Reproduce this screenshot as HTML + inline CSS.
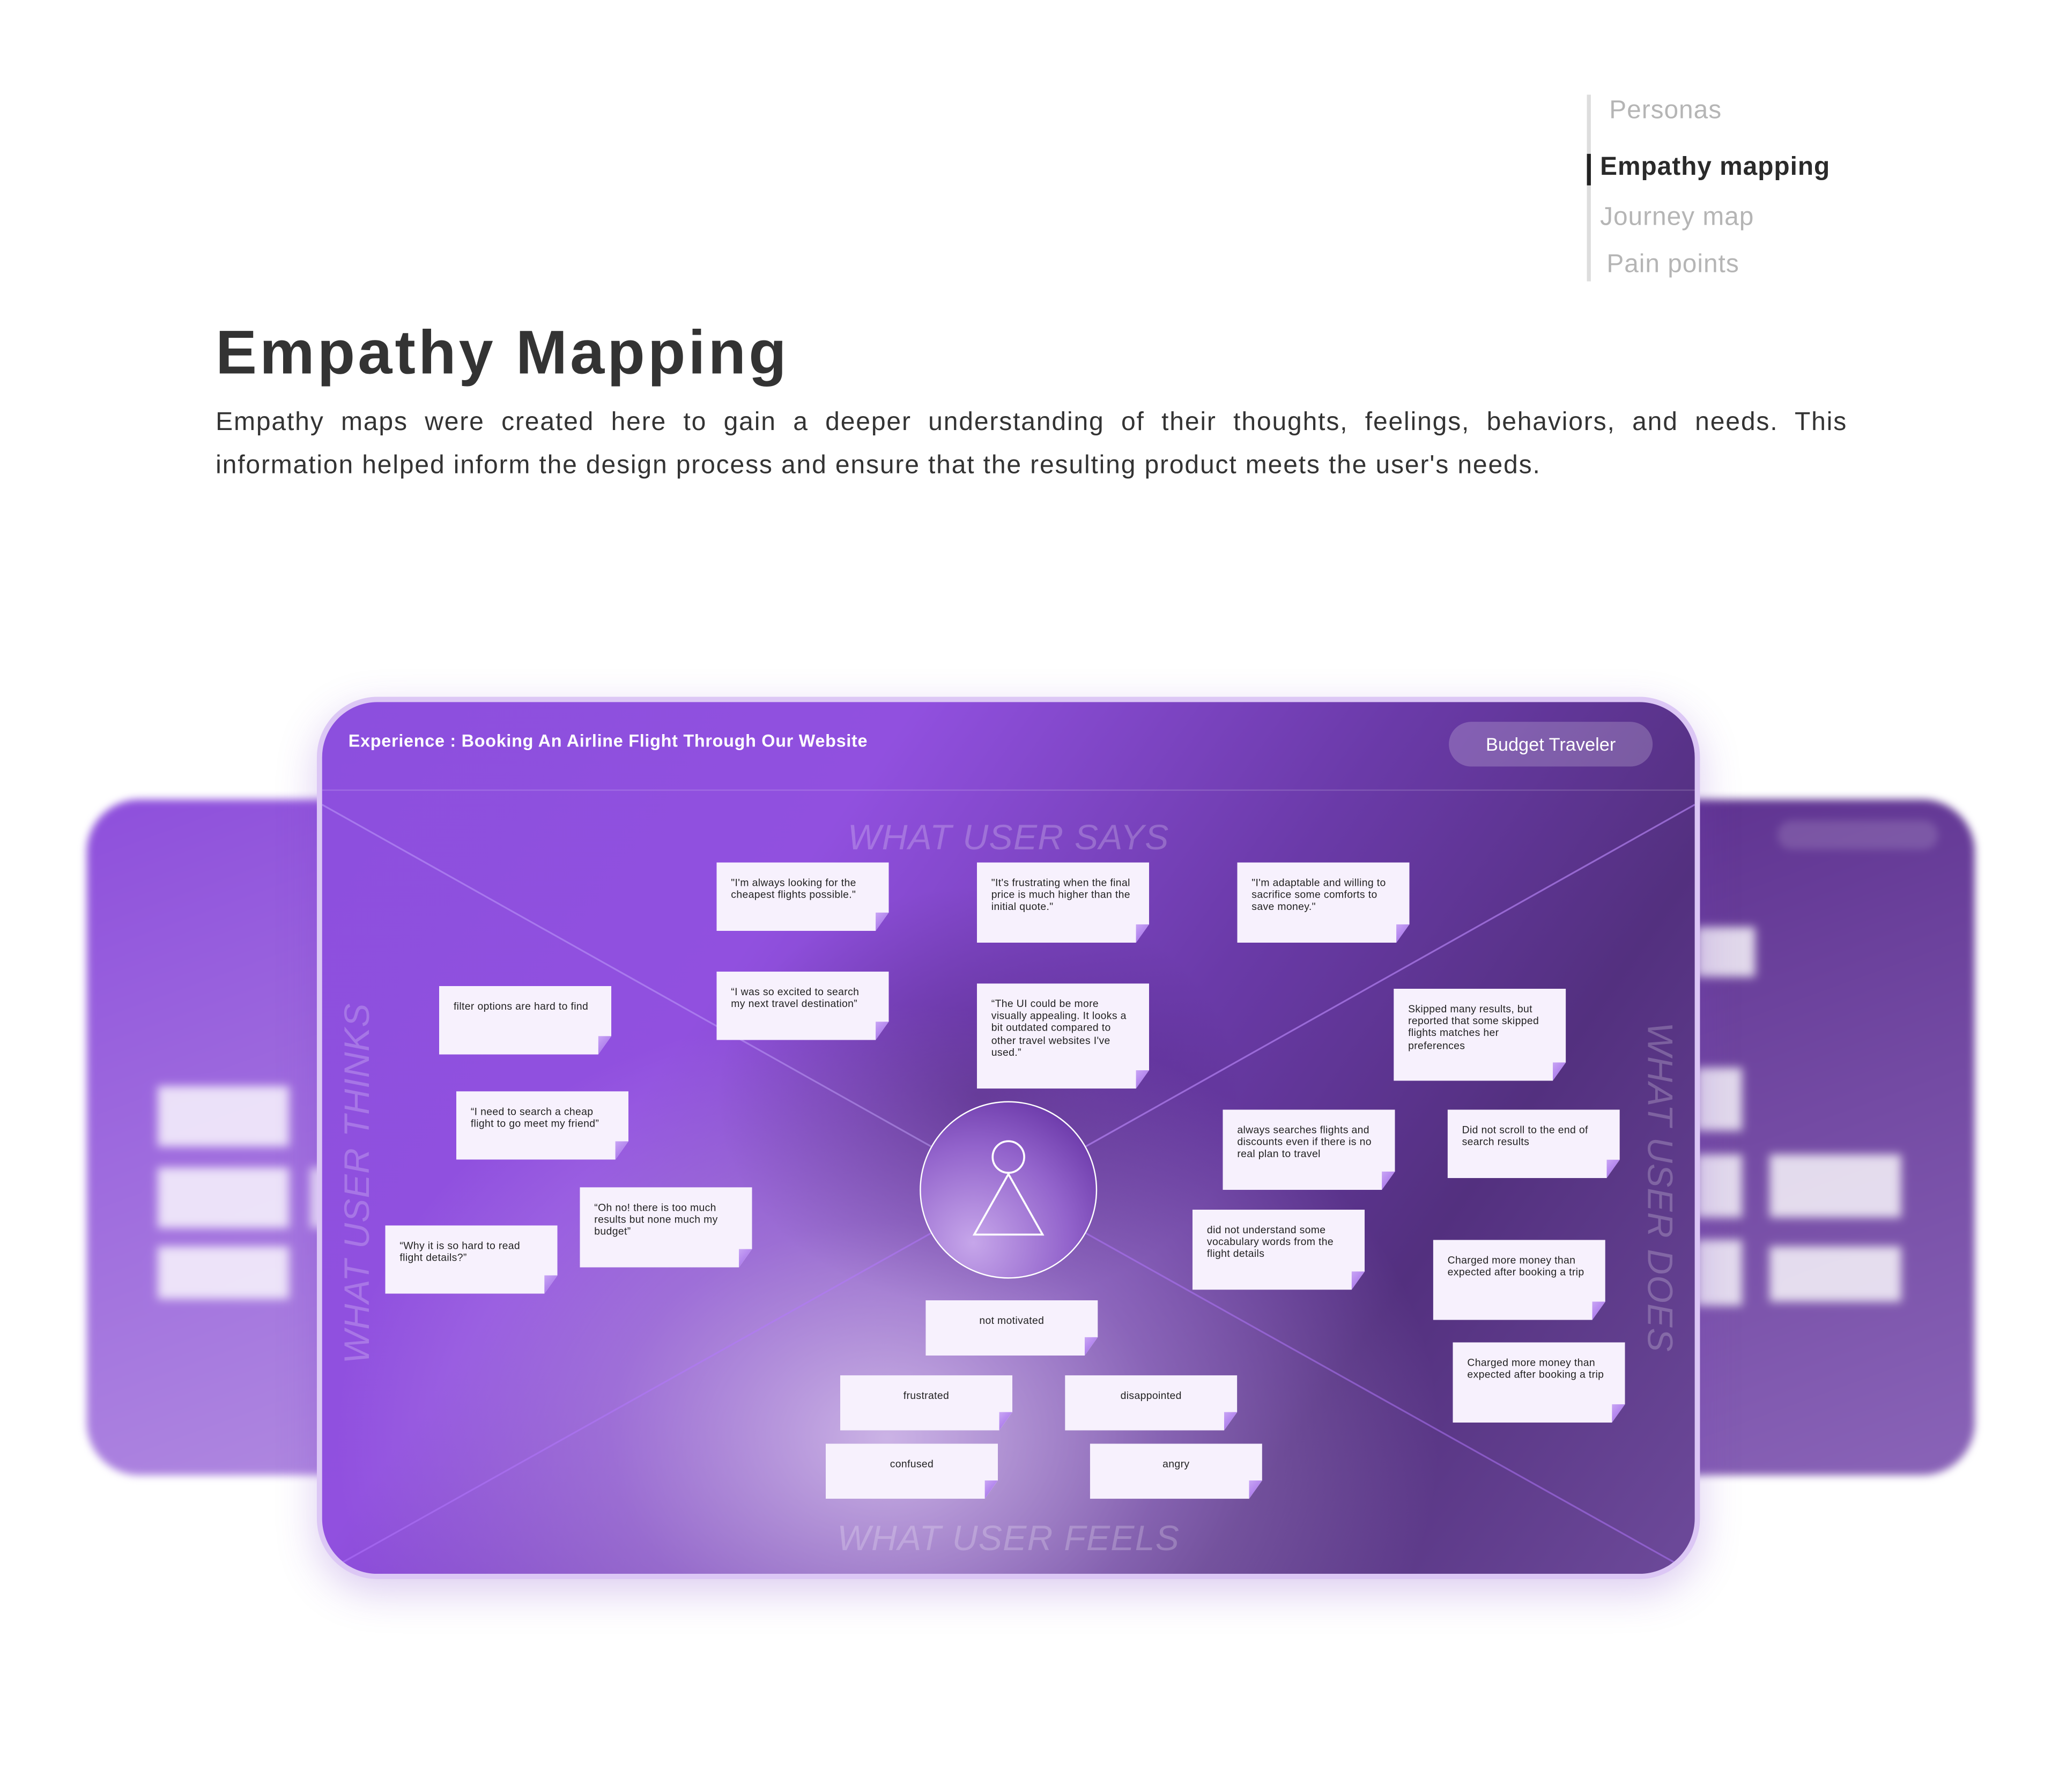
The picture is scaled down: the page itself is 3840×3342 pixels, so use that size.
<!DOCTYPE html>
<html><head><meta charset="utf-8"><style>
html,body{margin:0;padding:0;background:#fff;}
body{width:3840px;height:3341px;overflow:hidden;position:relative;font-family:"Liberation Sans",sans-serif;}
#w{position:absolute;left:0;top:0;width:1566px;height:1363px;transform:scale(2.452);transform-origin:0 0;}
.a{position:absolute;}
.nav{position:absolute;font-size:19.5px;color:#b5b5b5;white-space:nowrap;letter-spacing:.4px;}
.n{position:absolute;width:131px;background:#f7f1fd;box-shadow:0 6px 12px rgba(40,10,80,.3);font-size:7.9px;line-height:9.2px;letter-spacing:.15px;color:#222;padding:11px 11px 0 11px;box-sizing:border-box;clip-path:polygon(0 0,100% 0,100% calc(100% - 14px),calc(100% - 10px) 100%,0 100%);}
.n::after{content:"";position:absolute;right:0;bottom:0;width:10px;height:14px;background:linear-gradient(135deg,#c9a6f5,#9b62e6);clip-path:polygon(100% 0,0 100%,0 0);}
.c{text-align:center;}
.lab{position:absolute;font-size:27px;font-style:italic;color:rgba(255,255,255,.22);letter-spacing:.5px;white-space:nowrap;}
.bn{position:absolute;background:rgba(255,255,255,.8);}
.p{position:absolute;left:164px;width:1241px;font-size:19.6px;line-height:33px;letter-spacing:.75px;color:#333;white-space:nowrap;}
</style></head><body><div id="w">
<div class="a" style="left:1207px;top:72px;width:3px;height:142px;background:#ddd"></div>
<div class="a" style="left:1207px;top:117px;width:3px;height:24px;background:#222"></div>
<div class="nav" style="left:1224px;top:73px">Personas</div>
<div class="nav" style="left:1217px;top:116px;color:#2a2a2a;font-weight:bold">Empathy mapping</div>
<div class="nav" style="left:1217px;top:154px">Journey map</div>
<div class="nav" style="left:1222px;top:190px">Pain points</div>
<div class="a" style="left:164px;top:240px;font-size:47px;font-weight:bold;color:#333;white-space:nowrap;letter-spacing:2.1px">Empathy Mapping</div>
<div class="p" style="top:305px;text-align:justify;text-align-last:justify">Empathy maps were created here to gain a deeper understanding of their thoughts, feelings, behaviors, and needs. This</div>
<div class="p" style="top:338px">information helped inform the design process and ensure that the resulting product meets the user's needs.</div>

<div class="a" style="left:66px;top:608px;width:260px;height:514px;border-radius:40px;background:linear-gradient(160deg,#8e4fdc,#b08ae0);filter:blur(3px)">
<div class="bn" style="left:54px;top:218px;width:100px;height:46px;filter:blur(2px)"></div>
<div class="bn" style="left:54px;top:280px;width:100px;height:46px;filter:blur(2px)"></div>
<div class="bn" style="left:54px;top:340px;width:100px;height:40px;filter:blur(2px)"></div>
<div class="bn" style="left:170px;top:280px;width:40px;height:46px;filter:blur(2px)"></div>
</div>
<div class="a" style="left:1230px;top:608px;width:272px;height:514px;border-radius:40px;background:linear-gradient(160deg,#5e3290,#8a64b8);filter:blur(3px)">
<div class="a" style="left:122px;top:16px;width:122px;height:22px;border-radius:11px;background:rgba(255,255,255,.15)"></div>
<div class="bn" style="left:60px;top:97px;width:45px;height:38px;filter:blur(2px)"></div>
<div class="bn" style="left:60px;top:204px;width:35px;height:48px;filter:blur(2px)"></div>
<div class="bn" style="left:60px;top:270px;width:35px;height:48px;filter:blur(2px)"></div>
<div class="bn" style="left:116px;top:270px;width:100px;height:48px;filter:blur(2px)"></div>
<div class="bn" style="left:116px;top:340px;width:100px;height:42px;filter:blur(2px)"></div>
<div class="bn" style="left:60px;top:335px;width:35px;height:50px;filter:blur(2px)"></div>
</div>

<div class="a" style="left:241px;top:530px;width:1052px;height:671px;border-radius:46px;background:#dcc7f5;box-shadow:0 10px 30px rgba(120,60,200,.25)"></div>
<div class="a" style="left:245px;top:534px;width:1044px;height:663px;border-radius:42px;overflow:hidden;background:linear-gradient(125deg,#8c4fde 0%,#9150df 30%,#6a3aa8 55%,#53307f 75%,#6d4a9a 100%)">
<div class="a" style="left:0;top:0;width:1044px;height:663px;background:radial-gradient(ellipse 420px 330px at 430px 560px,rgba(220,200,240,.85),rgba(200,170,235,.4) 50%,rgba(180,150,220,0) 100%)"></div>
<div class="a" style="left:0;top:0;width:1044px;height:663px;background:radial-gradient(ellipse 200px 160px at 500px 300px,rgba(50,20,80,.35),rgba(50,20,80,0))"></div>
<svg class="a" style="left:0;top:0" width="1044" height="663">
<defs><radialGradient id="g" cx=".3" cy=".8" r=".9"><stop offset="0" stop-color="#c6a6ea"/><stop offset=".6" stop-color="#9364cc"/><stop offset="1" stop-color="#6a38a8"/></radialGradient></defs>
<line x1="0" y1="67" x2="1044" y2="67" stroke="rgba(255,255,255,.15)" stroke-width="1"/>
<line x1="0" y1="78" x2="522" y2="371" stroke="rgba(200,170,255,.45)" stroke-width="1.3"/>
<line x1="1044" y1="78" x2="522" y2="371" stroke="rgba(190,140,255,.6)" stroke-width="1.3"/>
<line x1="0" y1="663" x2="522" y2="371" stroke="rgba(180,120,255,.5)" stroke-width="1.3"/>
<line x1="1044" y1="663" x2="522" y2="371" stroke="rgba(180,120,255,.5)" stroke-width="1.3"/>
<circle cx="522" cy="371" r="67" fill="url(#g)"/>
<circle cx="522" cy="371" r="67" fill="none" stroke="#fff" stroke-width="1"/>
<circle cx="522" cy="346" r="12" fill="none" stroke="#fff" stroke-width="1.5"/>
<polygon points="522,359 496,405 548,405" fill="none" stroke="#fff" stroke-width="1.5"/>
</svg>
<div class="a" style="left:20px;top:22px;font-size:13.2px;font-weight:bold;color:#fff;white-space:nowrap;letter-spacing:.3px">Experience : Booking An Airline Flight Through Our Website</div>
<div class="a" style="left:857px;top:15px;width:155px;height:34px;border-radius:17px;background:rgba(255,255,255,.2);color:#fff;font-size:14px;line-height:34px;text-align:center">Budget Traveler</div>
<div class="lab" style="left:0;width:1044px;text-align:center;top:88px">WHAT USER SAYS</div>
<div class="lab" style="left:0;width:1044px;text-align:center;top:621px">WHAT USER FEELS</div>
<div class="lab" style="left:27px;top:366px;transform:translate(-50%,-50%) rotate(-90deg)">WHAT USER THINKS</div>
<div class="lab" style="left:1017px;top:369px;transform:translate(-50%,-50%) rotate(90deg)">WHAT USER DOES</div>
</div>

<div class="n" style="left:545px;top:656px;height:52px">"I'm always looking for the cheapest flights possible."</div>
<div class="n" style="left:743px;top:656px;height:61px">"It's frustrating when the final price is much higher than the initial quote."</div>
<div class="n" style="left:941px;top:656px;height:61px">"I'm adaptable and willing to sacrifice some comforts to save money."</div>
<div class="n" style="left:545px;top:739px;height:52px">“I was so excited to search my next travel destination”</div>
<div class="n" style="left:743px;top:748px;height:80px">“The UI could be more visually appealing. It looks a bit outdated compared to other travel websites I've used.”</div>
<div class="n" style="left:334px;top:750px;height:52px">filter options are hard to find</div>
<div class="n" style="left:347px;top:830px;height:52px">“I need to search a cheap flight to go meet my friend”</div>
<div class="n" style="left:441px;top:903px;height:61px">“Oh no! there is too much results but none much my budget”</div>
<div class="n" style="left:293px;top:932px;height:52px">“Why it is so hard to read flight details?”</div>
<div class="n" style="left:1060px;top:752px;height:70px">Skipped many results, but reported that some skipped flights matches her preferences</div>
<div class="n" style="left:930px;top:844px;height:61px">always searches flights and discounts even if there is no real plan to travel</div>
<div class="n" style="left:1101px;top:844px;height:52px">Did not scroll to the end of search results</div>
<div class="n" style="left:907px;top:920px;height:61px">did not understand some vocabulary words from the flight details</div>
<div class="n" style="left:1090px;top:943px;height:61px">Charged more money than expected after booking a trip</div>
<div class="n" style="left:1105px;top:1021px;height:61px">Charged more money than expected after booking a trip</div>
<div class="n c" style="left:704px;top:989px;height:42px">not motivated</div>
<div class="n c" style="left:639px;top:1046px;height:42px">frustrated</div>
<div class="n c" style="left:810px;top:1046px;height:42px">disappointed</div>
<div class="n c" style="left:628px;top:1098px;height:42px">confused</div>
<div class="n c" style="left:829px;top:1098px;height:42px">angry</div>
</div></body></html>
